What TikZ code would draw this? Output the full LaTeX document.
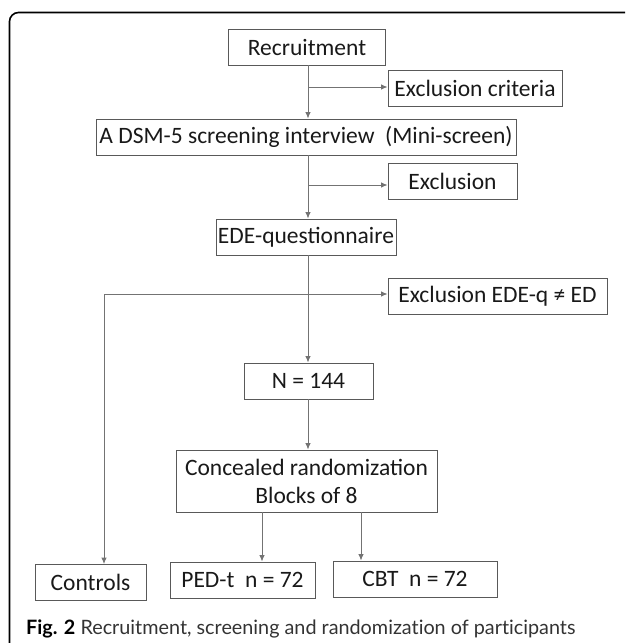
\documentclass[tikz,border=0pt]{standalone}
\usepackage{fontspec}
\setmainfont{Carlito}
\newfontfamily\capfont[Ligatures=NoCommon]{Lato}
\usetikzlibrary{calc,arrows.meta}
\begin{document}
\begin{tikzpicture}[x=1pt,y=-1pt,
		box/.style={draw=black!65,line width=0.9pt,minimum height=36pt,inner sep=2pt,
			font=\fontsize{23.5}{28}\selectfont,text=black!90},
		link/.style={draw=black!55,line width=0.9pt,-{Latex[length=6.5pt,width=5.5pt]}}]
		\useasboundingbox (0,0) rectangle (625,643);
		\draw[line width=1.6pt,rounded corners=9pt] (9.5,643) -- (9.5,12.5) -- (625,12.5);

		\node[box,minimum width=157pt] (rec) at (307,47) {Recruitment};
		\node[box,minimum width=174pt] (crit) at (475,88) {Exclusion criteria};
		\node[box,minimum width=420pt] (dsm) at (306,137) {A DSM-5 screening interview\ \ (Mini-screen)};
		\node[box,minimum width=129pt] (excl) at (452.5,181) {Exclusion};
		\node[box,minimum width=177pt] (ede) at (306,237) {EDE-questionnaire};
		\node[box,minimum width=219pt] (edeq) at (497.5,296.5) {Exclusion EDE-q ≠ ED};
		\node[box,minimum width=129pt] (n) at (308.5,381) {N = 144};
		\node[box,minimum width=261pt,minimum height=62pt,align=center] (rand) at (306.5,481)
			{Concealed randomization\\Blocks of 8};
		\node[box,minimum width=111pt] (ctrl) at (90.5,582.5) {Controls};
		\node[box,minimum width=145pt] (ped) at (242.5,580) {PED-t\ \ n = 72};
		\node[box,minimum width=164pt] (cbt) at (415,579) {CBT\ \ n = 72};

		% main column
		\draw[link] (rec.south -| 308,0) -- (dsm.north -| 308,0);
		\draw[link] (dsm.south -| 308,0) -- (ede.north -| 308,0);
		\draw[link] (ede.south -| 308,0) -- (n.north -| 308,0);
		\draw[link] (n.south -| 308,0) -- (rand.north -| 308,0);

		% side exits
		\draw[link] (308,87) -- (crit.west |- 0,87);
		\draw[link] (308,185) -- (excl.west |- 0,185);
		\coordinate (split) at (104,294);
		\draw[link] (split) -- (edeq.west |- split);
		\draw[link] (split) -- (split |- ctrl.north);

		% arms
		\draw[link] ([xshift=-44.5pt]rand.south) -- ([xshift=-44.5pt]rand.south |- ped.north);
		\draw[link] ([xshift=54.5pt]rand.south) -- ([xshift=54.5pt]rand.south |- cbt.north);

		\node[anchor=base west,inner sep=0pt,font=\capfont\fontsize{19.8}{24}\selectfont,text=black!80] (cap) at (26,634)
			{\textbf{\textcolor{black}{Fig. 2}} Recruitment, screening and randomization of participants};
	\end{tikzpicture}
\end{document}
